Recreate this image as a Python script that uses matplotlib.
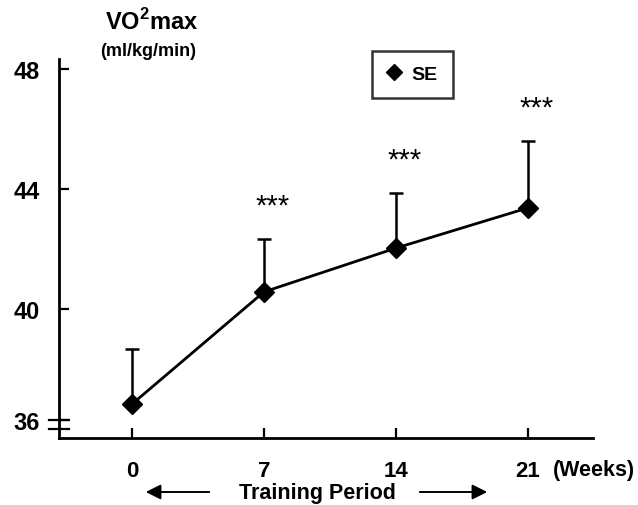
import matplotlib.pyplot as plt
from matplotlib.lines import Line2D
from matplotlib.patches import FancyArrowPatch

# data
weeks = [0, 7, 14, 21]
vo2max = [36.83, 40.57, 42.03, 43.37]
se = [1.83, 1.77, 1.85, 2.23]
signif = ['', '***', '***', '***']
ytick_vals = [36.3, 40, 44, 48]
ytick_labels = ['36', '40', '44', '48']

plt.rcParams['font.family'] = ['Liberation Sans', 'DejaVu Sans']
plt.rcParams['mathtext.fontset'] = 'custom'
plt.rcParams['mathtext.bf'] = 'Liberation Sans:bold'

W, H = 638, 506
fig = plt.figure(figsize=(W / 100, H / 100), dpi=100)


def fx(px):
    return px / W


def fy(py):
    return 1 - py / H


ax = fig.add_axes([fx(59), fy(439), fx(593) - fx(59), fy(60) - fy(439)])

ax.errorbar(weeks, vo2max, yerr=[[0] * len(se), se], fmt='none',
            ecolor='black', elinewidth=1.8, capsize=5, capthick=1.8, zorder=2)
ax.plot(weeks, vo2max, color='black', linewidth=2.0, marker='D',
        markersize=10.5, zorder=3)

for w, v, s, lab in zip(weeks, vo2max, se, signif):
    if lab:
        ax.annotate(lab, (w, v + s), xytext=(6, 14), textcoords='offset points',
                    ha='center', va='bottom', fontsize=21)

ax.set_xlim(-3.87, 24.44)
ax.set_ylim(35.7, 48.33)
ax.set_xticks(weeks)
ax.set_xticklabels([str(w) for w in weeks], fontsize=16, fontweight='bold')
ax.set_yticks(ytick_vals)
ax.set_yticklabels(ytick_labels, fontsize=17, fontweight='bold')
ax.tick_params(axis='both', direction='in', length=7, width=1.6)
ax.tick_params(axis='x', pad=16)
ax.tick_params(axis='y', pad=14)

for side in ['top', 'right']:
    ax.spines[side].set_visible(False)
for side in ['left', 'bottom']:
    ax.spines[side].set_linewidth(2.0)

# axis break marks near 36
for yb in [36.3, 36.0]:
    ax.plot([-0.019, 0.019], [yb, yb], color='black', lw=1.6,
            transform=ax.get_yaxis_transform(), clip_on=False)

fig.text(fx(105), fy(30), r'VO$^{\mathbf{2}}$max', fontsize=17, fontweight='bold',
         va='baseline')
fig.text(fx(100), fy(51), '(ml/kg/min)', fontsize=13, fontweight='bold', va='center')
fig.text(fx(553), fy(471), '(Weeks)', fontsize=15.5, fontweight='bold', va='center')
fig.text(fx(317), fy(494), 'Training Period', fontsize=15.5, fontweight='bold',
         ha='center', va='center')

for x0, x1 in [(212, 143), (417, 490)]:
    fig.add_artist(FancyArrowPatch(
        (fx(x0), fy(493)), (fx(x1), fy(493)), transform=fig.transFigure,
        arrowstyle='-|>,head_length=9,head_width=4.5', mutation_scale=1,
        color='black', lw=1.4))

handle = Line2D([], [], color='black', marker='D', linestyle='none', markersize=8)
leg = fig.legend([handle], ['SE'], loc='upper left',
                 bbox_to_anchor=(fx(372), fy(52)), frameon=True, fancybox=False,
                 prop={'size': 14, 'weight': 'bold'}, borderpad=0.75,
                 handlelength=0.8, handletextpad=0.5, borderaxespad=0)
leg.get_frame().set_edgecolor('black')
leg.get_frame().set_linewidth(1.8)

fig.savefig('out.png', dpi=100)
